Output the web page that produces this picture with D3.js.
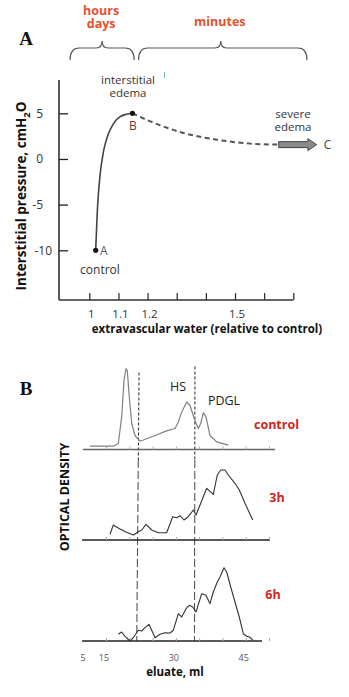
<!DOCTYPE html>
<html><head><meta charset="utf-8">
<script src="https://cdn.jsdelivr.net/npm/d3@7"></script>
<style>
html,body{margin:0;padding:0;background:#fff;}
svg{display:block;}
text{font-family:"Open Sans","Noto Sans",sans-serif;}
</style></head>
<body>
<script>
// ---------- Panel A data ----------
const waterTicks = [1.0, 1.1, 1.2, 1.3, 1.4, 1.5, 1.6, 1.7];
const waterTickLabels = ["1", "1.1", "1.2", "", "", "1.5", "", ""];
const pressureTicks = [5, 0, -5, -10];
const solidWater = [1.148, 1.125, 1.1, 1.075, 1.054, 1.043, 1.031, 1.025, 1.022];
const solidPressure = [5, 4.88, 4.49, 3.4, 1.57, -0.26, -3.9, -7.6, -10];
const dashWater = [1.148, 1.209, 1.323, 1.438, 1.552, 1.65];
const dashPressure = [5, 4.12, 2.85, 2.11, 1.68, 1.57];
const pointNames = ["A", "B"];
const pointWater = [1.022, 1.148];
const pointPressure = [-10, 5];
const braceLabels = [["hours", "days"], ["minutes"]];
const braceFrom = [0.934, 1.169];
const braceTo = [1.154, 1.747];

// ---------- Panel B data ----------
const eluateTicks = [15, 20, 25, 30, 35, 40, 45, 50];
const eluateTickLabels = [5, 15, 30, 45];
const traceNames = ["control", "3h", "6h"];
const controlMl = [8.0, 16.57, 17.64, 18.37, 18.87, 19.29, 19.57, 20.0, 20.52, 21.23, 22.3, 25.16, 28.03, 29.82, 30.53, 31.26, 32.33, 33.04, 34.11, 34.82, 35.33, 35.89, 36.47, 37.33, 38.77, 41.26];
const controlOD = [3.3, 3.3, 6, 32.6, 69, 81, 79, 52.6, 26, 14, 8.3, 13.3, 18.6, 21, 27.6, 37.6, 47.6, 44, 29, 21, 26, 36.6, 32.6, 14, 7.6, 4.3];
const h3Ml = [15.86, 16.57, 18.01, 19.44, 20.86, 21.94, 22.67, 23.59, 24.81, 26.23, 28.03, 29.32, 30.18, 30.89, 31.75, 32.67, 33.75, 34.33, 35.34, 36.62, 38.04, 38.9, 39.63, 40.55, 41.26, 42.7, 43.62, 44.85, 46.5];
const h3OD = [5.7, 15, 11, 7.7, 5, 8.3, 10, 15.7, 10, 7.3, 7.3, 23.3, 22.3, 24.3, 20, 23.3, 30, 25, 36.7, 51.7, 45.7, 65, 70, 70, 65, 56.7, 50, 36.7, 20];
const h6Ml = [17.64, 18.37, 19.08, 20.15, 20.86, 21.94, 22.67, 23.37, 24.23, 24.81, 25.52, 26.6, 27.67, 28.74, 29.45, 30.53, 31.26, 32.18, 32.89, 33.62, 34.33, 35.55, 36.47, 37.33, 38.04, 38.9, 39.48, 40.34, 40.92, 41.78, 42.7, 43.62, 44.48, 45.21, 45.77, 46.5];
const h6OD = [6.7, 9, 4.7, 0, 3.3, 10.7, 10, 13.3, 16.7, 10.7, 3.3, 6.7, 8.3, 8, 10.7, 27.3, 24, 32.3, 35.7, 34, 29, 47.3, 45.7, 37.3, 49, 59, 64, 73.3, 69, 54, 39, 24, 7.3, 4.7, 4, 1.3];
const fractionTop = [22.1, 34.1];
const fractionBottom = [21.6, 34.0];
const fractionNames = ["HS", "PDGL"];

// ---------- drawing ----------
const W = 349, H = 697;
const svg = d3.select("body").append("svg").attr("width", W).attr("height", H);

function multiLine(g, lines, cx, y0, lh, size, fill, bold) {
  const t = g.append("text").attr("text-anchor", "middle").style("font-size", size)
    .attr("fill", fill);
  if (bold) t.style("font-weight", "bold");
  lines.forEach((s, j) => {
    t.append("tspan").attr("x", cx).attr("y", y0 + j * lh).text(s);
  });
  return t;
}

// Panel A scales
const x = d3.scaleLinear().domain([1, 1.5]).range([89.3, 235]);
const y = d3.scaleLinear().domain([-10, 5]).range([250.3, 113.3]);
const axisY0 = 300, axisX0 = 59;
const gA = svg.append("g");

gA.append("text").attr("x", 26).attr("y", 45).attr("text-anchor", "middle")
  .style("font-family", "'Liberation Serif','DejaVu Serif',serif").style("font-weight", "bold")
  .style("font-size", "19px").attr("fill", "#111").text("A");

// braces
const red = "#e8502e";
braceFrom.forEach((f, i) => {
  const x0 = x(f), x1 = x(braceTo[i]), tip = (x0 + x1) / 2 + (i === 0 ? 0 : -2);
  const yb = 60, yh = 48, yt = 41;
  const p = d3.path();
  p.moveTo(x0, yb);
  p.quadraticCurveTo(x0, yh, x0 + 9, yh);
  p.lineTo(tip - 6, yh);
  p.quadraticCurveTo(tip, yh, tip, yt);
  p.quadraticCurveTo(tip, yh, tip + 6, yh);
  p.lineTo(x1 - 9, yh);
  p.quadraticCurveTo(x1, yh, x1, yb);
  gA.append("path").attr("d", p.toString()).attr("fill", "none").attr("stroke", "#555").attr("stroke-width", 1.2);
  const lines = braceLabels[i];
  if (lines.length === 1) {
    multiLine(gA, lines, tip - 1, 26, 0, "12.5px", red, true);
  } else {
    multiLine(gA, lines, tip - 1, 14.5, 13.5, "12.5px", red, true);
  }
});

// stray mark
gA.append("line").attr("x1", 164.5).attr("x2", 164.5).attr("y1", 72).attr("y2", 78).attr("stroke", "#7ab8e0").attr("stroke-width", 1);

// axes
gA.append("line").attr("x1", axisX0).attr("x2", axisX0).attr("y1", 80).attr("y2", axisY0).attr("stroke", "#222").attr("stroke-width", 1.5);
gA.append("line").attr("x1", axisX0).attr("x2", x(1.7)).attr("y1", axisY0).attr("y2", axisY0).attr("stroke", "#333").attr("stroke-width", 1.5);
const xAxis = d3.axisTop(x).tickValues(waterTicks).tickSize(7).tickFormat("");
gA.append("g").attr("transform", `translate(0,${axisY0})`).call(xAxis)
  .call(g => g.select(".domain").remove())
  .call(g => g.selectAll("line").attr("stroke", "#333").attr("stroke-width", 1.3));
waterTicks.forEach((v, i) => {
  if (!waterTickLabels[i]) return;
  gA.append("text").attr("x", x(v) + 2).attr("y", 318).attr("text-anchor", "middle")
    .style("font-size", "11.5px").attr("fill", "#333").text(waterTickLabels[i]);
});
const yAxis = d3.axisRight(y).tickValues(pressureTicks).tickSize(9).tickFormat("");
gA.append("g").attr("transform", `translate(${axisX0},0)`).call(yAxis)
  .call(g => g.select(".domain").remove())
  .call(g => g.selectAll("line").attr("stroke", "#222").attr("stroke-width", 1.3));
pressureTicks.forEach(v => {
  gA.append("text").attr("x", v === -10 ? 52 : 43).attr("y", y(v) + 4.5).attr("text-anchor", "end")
    .style("font-size", "12px").attr("fill", "#333").text(d3.format("d")(v).replace("−", "-"));
});
gA.append("text").attr("x", 207).attr("y", 333).attr("text-anchor", "middle")
  .style("font-size", "11.5px").style("font-weight", "bold").attr("fill", "#111")
  .text("extravascular water (relative to control)");
const yt = gA.append("text").attr("transform", "translate(26,196) rotate(-90)").attr("text-anchor", "middle")
  .style("font-size", "13.5px").style("font-weight", "bold").attr("fill", "#111");
yt.append("tspan").text("Interstitial pressure, cmH");
yt.append("tspan").attr("dy", 4).style("font-size", "9.5px").text("2");
yt.append("tspan").attr("dy", -4).text("O");

// curves
const solidLine = d3.line().x(d => x(d[0])).y(d => y(d[1])).curve(d3.curveMonotoneY);
gA.append("path").attr("d", solidLine(d3.zip(solidWater, solidPressure)))
  .attr("fill", "none").attr("stroke", "#444").attr("stroke-width", 1.6);
const dashLine = d3.line().x(d => x(d[0])).y(d => y(d[1])).curve(d3.curveMonotoneX);
gA.append("path").attr("d", dashLine(d3.zip(dashWater, dashPressure)))
  .attr("fill", "none").attr("stroke", "#555").attr("stroke-width", 2).attr("stroke-dasharray", "5,3.5");
// arrow
const ay = y(dashPressure[dashPressure.length - 1]);
const ax0 = x(dashWater[dashWater.length - 1]), ax1 = x(1.78), ah = x(1.75);
gA.append("path").attr("d", `M${ax0},${ay - 3}L${ah},${ay - 3}L${ah},${ay - 6}L${ax1},${ay}L${ah},${ay + 6}L${ah},${ay + 3}L${ax0},${ay + 3}Z`)
  .attr("fill", "#8a8a8a").attr("stroke", "#444").attr("stroke-width", 1);
gA.append("text").attr("x", ax1 + 11).attr("y", ay + 4.5).attr("text-anchor", "middle")
  .style("font-size", "12px").attr("fill", "#444").text("C");
multiLine(gA, ["severe", "edema"], 293, 117.5, 13.5, "11.5px", "#333", false);

pointNames.forEach((n, i) => {
  gA.append("circle").attr("cx", x(pointWater[i])).attr("cy", y(pointPressure[i])).attr("r", 2.6).attr("fill", "#111");
});
gA.append("text").attr("x", x(pointWater[0]) + 8).attr("y", y(pointPressure[0]) + 4.5).attr("text-anchor", "middle")
  .style("font-size", "12px").attr("fill", "#4a5a70").text(pointNames[0]);
gA.append("text").attr("x", x(pointWater[1]) + 0.5).attr("y", y(pointPressure[1]) + 17).attr("text-anchor", "middle")
  .style("font-size", "12px").attr("fill", "#6a3b35").text(pointNames[1]);
gA.append("text").attr("x", 100).attr("y", 274).attr("text-anchor", "middle").style("font-size", "12px").attr("fill", "#333").text("control");
multiLine(gA, ["interstitial", "edema"], 128, 84, 12.5, "11.5px", "#333", false);

// ---------- Panel B ----------
const gB = svg.append("g");
gB.append("text").attr("x", 26).attr("y", 395).attr("text-anchor", "middle")
  .style("font-family", "'Liberation Serif','DejaVu Serif',serif").style("font-weight", "bold")
  .style("font-size", "19px").attr("fill", "#111").text("B");

const xB = d3.scaleLinear().domain([5, 15, 50]).range([83, 106, 269]);
const baselines = [449.5, 540, 641];
const axisStart = [5, 4.6, 4.6];
const axisEnd = [51.3, 50.2, 48.5];
const traces = [d3.zip(controlMl, controlOD), d3.zip(h3Ml, h3OD), d3.zip(h6Ml, h6OD)];
const traceColor = ["#808080", "#333", "#333"];
const labelY = [428.5, 502, 598.5];
const labelX = [276.5, 277, 273];

// dashed fraction lines
const yTopLine = [372.5, 366.5];
fractionTop.forEach((v, i) => {
  const xt = xB(v), xb = xB(fractionBottom[i]);
  const yMid = 460;
  const xm = xt + (xb - xt) * (yMid - yTopLine[i]) / (641 - yTopLine[i]);
  gB.append("line").attr("x1", xt).attr("y1", yTopLine[i]).attr("x2", xm).attr("y2", yMid)
    .attr("stroke", "#222").attr("stroke-width", 1).attr("stroke-dasharray", "3,2");
  gB.append("line").attr("x1", xm).attr("y1", yMid).attr("x2", xb).attr("y2", 641)
    .attr("stroke", "#555").attr("stroke-width", 1.1).attr("stroke-dasharray", "8,3");
});

traces.forEach((tr, i) => {
  const yS = d3.scaleLinear().domain([0, 100]).range([baselines[i], baselines[i] - 100]);
  gB.append("line").attr("x1", xB(axisStart[i])).attr("x2", xB(axisEnd[i]))
    .attr("y1", baselines[i]).attr("y2", baselines[i])
    .attr("stroke", i === 0 ? "#666" : "#222").attr("stroke-width", i === 0 ? 1.3 : 1.6);
  const ax = d3.axisTop(xB).tickValues(eluateTicks).tickSize(3).tickFormat("");
  gB.append("g").attr("transform", `translate(0,${baselines[i]})`).call(ax)
    .call(g => g.select(".domain").remove())
    .call(g => g.selectAll("line").attr("stroke", "#aaa").attr("stroke-width", 1));
  const ln = d3.line().x(d => xB(d[0])).y(d => yS(d[1])).curve(d3.curveLinear);
  gB.append("path").attr("d", ln(tr)).attr("fill", "none").attr("stroke", traceColor[i])
    .attr("stroke-width", i === 0 ? 1.2 : 1.1).attr("stroke-linejoin", "round");
  gB.append("text").attr("x", labelX[i]).attr("y", labelY[i]).attr("text-anchor", "middle")
    .style("font-size", "12.5px").style("font-weight", "bold").attr("fill", "#d42323").text(traceNames[i]);
});

gB.append("text").attr("x", 178).attr("y", 390.5).attr("text-anchor", "middle").style("font-size", "12.5px").attr("fill", "#222").text(fractionNames[0]);
gB.append("text").attr("x", 224).attr("y", 405).attr("text-anchor", "middle").style("font-size", "12.5px").attr("fill", "#222").text(fractionNames[1]);

eluateTickLabels.forEach(v => {
  gB.append("text").attr("x", xB(v) - (v === 5 ? 0 : 2)).attr("y", 661).attr("text-anchor", "middle")
    .style("font-size", "9px").attr("fill", "#555").text(v);
});
gB.append("text").attr("x", 175).attr("y", 676).attr("text-anchor", "middle")
  .style("font-size", "11.5px").style("font-weight", "bold").attr("fill", "#111").text("eluate, ml");
gB.append("text").attr("transform", "translate(69,497) rotate(-90)").attr("text-anchor", "middle")
  .style("font-size", "12.5px").style("font-weight", "bold").attr("fill", "#111").text("OPTICAL DENSITY");
</script>
</body></html>
